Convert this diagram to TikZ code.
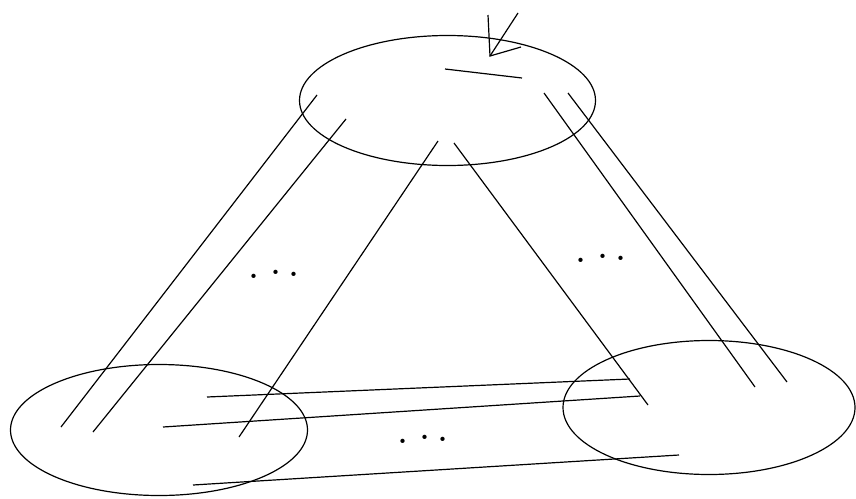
\documentclass[tikz,border=0pt]{standalone}
\usetikzlibrary{shapes.geometric}
\tikzset{
  blob/.style={ellipse, draw, line width=1.2pt, inner sep=0pt},
  wire/.style={line width=1.2pt},
  dotsnode/.style={inner sep=0pt, font=\fontsize{52}{52}\selectfont}
}
\newcommand{\mydots}{.\hspace{9.5pt}\raisebox{4pt}{.}\hspace{4.5pt}\raisebox{2pt}{.}}
\begin{document}
\begin{tikzpicture}[x=1pt,y=-1pt]
\useasboundingbox (0,0) rectangle (856,498);
% ellipses
\node[blob, minimum width=296pt, minimum height=130pt] (top) at (447.5,100.5) {};
\node[blob, minimum width=297pt, minimum height=131pt] (left) at (159,430) {};
\node[blob, minimum width=292pt, minimum height=134pt] (right) at (709,407.5) {};
% endpoints
\coordinate (a1) at (317,95);  \coordinate (a2) at (61,427);
\coordinate (b1) at (346,119); \coordinate (b2) at (93,432);
\coordinate (c1) at (438,141); \coordinate (c2) at (239,437);
\coordinate (d1) at (454,143); \coordinate (d2) at (648,405);
\coordinate (e1) at (544,93);  \coordinate (e2) at (755,387);
\coordinate (f1) at (568,93);  \coordinate (f2) at (787,382);
\coordinate (g1) at (207,397); \coordinate (g2) at (630,379);
\coordinate (h1) at (163,427); \coordinate (h2) at (640,396);
\coordinate (i1) at (193,485); \coordinate (i2) at (679,455);
\coordinate (m1) at (445,69);  \coordinate (m2) at (522,78);
% arrow
\coordinate (s1) at (518,13);  \coordinate (tip) at (490,56);
\coordinate (arm1) at (488,15); \coordinate (arm2) at (521,47);
\draw[wire] (a1) -- (a2);
\draw[wire] (b1) -- (b2);
\draw[wire] (c1) -- (c2);
\draw[wire] (d1) -- (d2);
\draw[wire] (e1) -- (e2);
\draw[wire] (f1) -- (f2);
\draw[wire] (g1) -- (g2);
\draw[wire] (h1) -- (h2);
\draw[wire] (i1) -- (i2);
\draw[wire] (m1) -- (m2);
\draw[wire] (s1) -- (tip);
\draw[wire] (arm1) -- (tip) -- (arm2);
% dots
\node[dotsnode, anchor=base west] (dl) at (247,278) {\mydots};
\node[dotsnode, anchor=base west] (dr) at (574,262) {\mydots};
\node[dotsnode, anchor=base west] (db) at (396,443) {\mydots};
\end{tikzpicture}
\end{document}
